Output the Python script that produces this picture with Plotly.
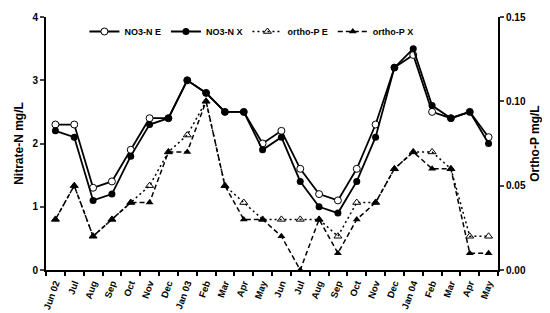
import plotly.graph_objects as go

months = ["Jun 02", "Jul", "Aug", "Sep", "Oct", "Nov", "Dec", "Jan 03", "Feb", "Mar", "Apr", "May",
          "Jun", "Jul", "Aug", "Sep", "Oct", "Nov", "Dec", "Jan 04", "Feb", "Mar", "Apr", "May"]

no3_e = [2.3, 2.3, 1.3, 1.4, 1.9, 2.4, 2.4, 3.0, 2.8, 2.5, 2.5, 2.0,
         2.2, 1.6, 1.2, 1.1, 1.6, 2.3, 3.2, 3.4, 2.5, 2.4, 2.5, 2.1]
no3_x = [2.2, 2.1, 1.1, 1.2, 1.8, 2.3, 2.4, 3.0, 2.8, 2.5, 2.5, 1.9,
         2.1, 1.4, 1.0, 0.9, 1.4, 2.1, 3.2, 3.5, 2.6, 2.4, 2.5, 2.0]
op_e = [0.03, 0.05, 0.02, 0.03, 0.04, 0.05, 0.07, 0.08, 0.10, 0.05, 0.04, 0.03,
        0.03, 0.03, 0.03, 0.02, 0.04, 0.04, 0.06, 0.07, 0.07, 0.06, 0.02, 0.02]
op_x = [0.03, 0.05, 0.02, 0.03, 0.04, 0.04, 0.07, 0.07, 0.10, 0.05, 0.03, 0.03,
        0.02, 0.00, 0.03, 0.01, 0.03, 0.04, 0.06, 0.07, 0.06, 0.06, 0.01, 0.01]

xs = list(range(len(months)))
FONT = "Liberation Sans, Arial, sans-serif"

fig = go.Figure()
fig.add_trace(go.Scatter(x=xs, y=op_e, name="ortho-P E", yaxis="y2", mode="lines+markers",
                         legendrank=3,
                         line=dict(color="black", width=1.5, dash="2px,3px"),
                         marker=dict(symbol="triangle-up-open", size=7, color="black", line=dict(width=1))))
fig.add_trace(go.Scatter(x=xs, y=op_x, name="ortho-P X", yaxis="y2", mode="lines+markers",
                         legendrank=4,
                         line=dict(color="black", width=1.5, dash="5px,3px"),
                         marker=dict(symbol="triangle-up", size=7, color="black")))
fig.add_trace(go.Scatter(x=xs, y=no3_e, name="NO3-N E", mode="lines+markers",
                         legendrank=1,
                         line=dict(color="black", width=1.8),
                         marker=dict(symbol="circle", size=7, color="white", line=dict(color="black", width=1))))
fig.add_trace(go.Scatter(x=xs, y=no3_x, name="NO3-N X", mode="lines+markers",
                         legendrank=2,
                         line=dict(color="black", width=1.8),
                         marker=dict(symbol="circle", size=7, color="black")))

fig.update_layout(
    width=542, height=305,
    margin=dict(l=38, r=52, t=9, b=43, autoexpand=False),
    paper_bgcolor="white", plot_bgcolor="white",
    font=dict(family=FONT, size=10, color="black", weight="bold"),
    showlegend=True,
    legend=dict(orientation="h", x=0.085, y=1.0, xanchor="left", yanchor="top",
                font=dict(size=9, family=FONT, weight="bold"),
                bgcolor="rgba(0,0,0,0)", itemwidth=30, tracegroupgap=0),
    xaxis=dict(range=[-0.5, 23.5], tickmode="array", tickvals=xs, ticktext=months,
               tickangle=-70, ticks="", showgrid=False, zeroline=False, automargin=False,
               showline=True, linecolor="black", linewidth=2,
               ticklabelstandoff=2,
               minor=dict(tickmode="linear", tick0=-0.5, dtick=1, ticks="outside",
                          ticklen=4, tickwidth=1.5, tickcolor="black", showgrid=False),
               tickfont=dict(size=9.5, family=FONT, weight="bold")),
    yaxis=dict(range=[0, 4], dtick=1, ticks="outside", ticklen=4, tickwidth=1.5, automargin=False,
               showgrid=False, zeroline=False, showline=True, linecolor="black", linewidth=2,
               title=dict(text="Nitrate-N mg/L", font=dict(size=12, family=FONT, weight="bold"), standoff=6),
               tickfont=dict(size=10, family=FONT, weight="bold")),
    yaxis2=dict(range=[0, 0.15], dtick=0.05, tickformat=".2f", overlaying="y", side="right",
                ticks="outside", ticklen=4, tickwidth=1.5, showgrid=False, zeroline=False, automargin=False,
                showline=True, linecolor="black", linewidth=2,
                title=dict(text="Ortho-P mg/L", font=dict(size=12, family=FONT, weight="bold"), standoff=6),
                tickfont=dict(size=10, family=FONT, weight="bold")),
)

fig.write_html("out.html")
